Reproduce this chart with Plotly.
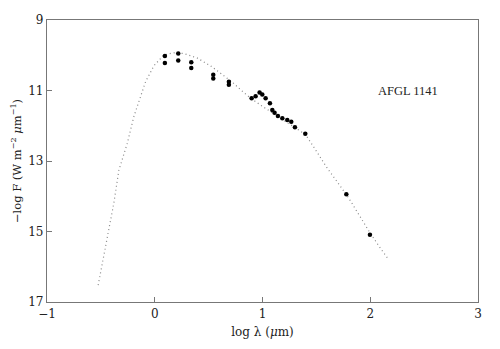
import plotly.graph_objects as go

# Observed photometry: log wavelength (um) and -log F (W m^-2 um^-1)
obs_logwl = [0.094, 0.094, 0.218, 0.218, 0.339, 0.339, 0.543, 0.543, 0.688, 0.688,
             0.899, 0.936, 0.973, 0.998, 1.029, 1.069, 1.091, 1.112, 1.143, 1.184,
             1.230, 1.267, 1.301, 1.397, 1.778, 1.997]
obs_neglogf = [10.02, 10.22, 9.95, 10.15, 10.20, 10.36, 10.55, 10.66, 10.75, 10.84,
               11.22, 11.16, 11.06, 11.11, 11.22, 11.36, 11.55, 11.63, 11.72, 11.79,
               11.84, 11.89, 12.04, 12.23, 13.94, 15.09]

# Model spectral energy distribution
model_logwl = [-0.525, -0.441, -0.38, -0.333, -0.255, -0.194, -0.132, -0.085, -0.008,
               0.084, 0.177, 0.27, 0.395, 0.518, 0.611, 0.734, 0.797, 0.89, 1.0, 1.1,
               1.2, 1.3, 1.4, 1.5, 1.6, 1.7, 1.8, 1.9, 2.0, 2.1, 2.174]
model_neglogf = [16.52, 15.15, 14.2, 13.26, 12.5, 11.74, 11.18, 10.75, 10.3,
                 9.99, 9.93, 9.95, 10.08, 10.3, 10.51, 10.8, 10.98, 11.22, 11.45, 11.65,
                 11.85, 12.03, 12.25, 12.72, 13.2, 13.62, 14.05, 14.55, 15.05, 15.5, 15.81]

x_ticks = [-1, 0, 1, 2, 3]
y_ticks = [9, 11, 13, 15, 17]

serif = "DejaVu Serif, Liberation Serif, serif"

fig = go.Figure()
fig.add_trace(go.Scatter(
    x=model_logwl, y=model_neglogf, mode="lines",
    line=dict(color="#888888", width=1.2, dash="1px,3px"),
    showlegend=False, hoverinfo="skip",
))
fig.add_trace(go.Scatter(
    x=obs_logwl, y=obs_neglogf, mode="markers",
    marker=dict(color="black", size=4.5),
    showlegend=False,
))

fig.add_annotation(
    x=2.35, y=11.0, text="AFGL 1141", showarrow=False,
    font=dict(family="Liberation Serif, serif", size=12.5, color="#222"),
)

axis_common = dict(
    showgrid=False, zeroline=False, showline=True, mirror=True,
    linecolor="#777", linewidth=1.2,
    ticks="inside", ticklen=5, tickcolor="#777", tickwidth=1,
    tickfont=dict(family=serif, size=12, color="#222"),
)

fig.update_layout(
    width=500, height=349,
    margin=dict(l=47, r=22, t=20, b=47),
    paper_bgcolor="white", plot_bgcolor="white",
    xaxis=dict(range=[-1, 3], tickvals=x_ticks,
               ticktext=["\u22121", "0", "1", "2", "3"],
               title=dict(text="log \u03bb (<i>\u03bc</i>m)", standoff=8,
                          font=dict(family=serif, size=12, color="#222")),
               **axis_common),
    yaxis=dict(range=[17, 9], tickvals=y_ticks,
               title=dict(text="\u2212log F (W m<sup>\u22122</sup> <i>\u03bc</i>m<sup>\u22121</sup>)",
                          standoff=4,
                          font=dict(family=serif, size=11.5, color="#222")),
               **axis_common),
)

fig.write_html("out.html")
